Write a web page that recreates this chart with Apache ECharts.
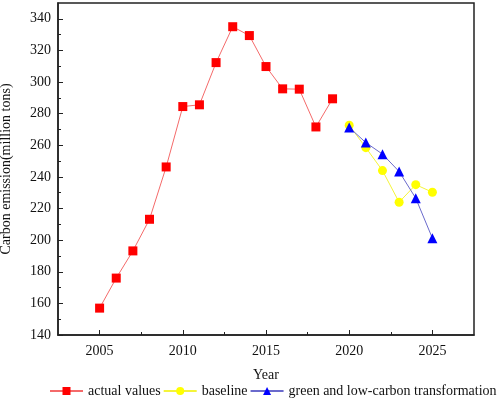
<!DOCTYPE html>
<html>
<head>
<meta charset="utf-8">
<script src="https://cdn.jsdelivr.net/npm/echarts@6/dist/echarts.min.js"></script>
<style>
  html, body { margin: 0; padding: 0; background: #fff; }
  #chart { width: 498px; height: 399px; }
</style>
</head>
<body>
<div id="chart"></div>
<script>
// data
const actualYears = [2005, 2006, 2007, 2008, 2009, 2010, 2011, 2012, 2013, 2014, 2015, 2016, 2017, 2018, 2019];
const actualValues = [157, 176, 193.2, 213.2, 246.3, 284.5, 285.6, 312.3, 335, 329.4, 309.8, 295.7, 295.5, 271.6, 289.4];
const forecastYears = [2020, 2021, 2022, 2023, 2024, 2025];
const baselineValues = [272.7, 258.5, 244, 224, 235.1, 230.3];
const greenValues = [271.3, 261.7, 254.4, 243.4, 226.5, 201.2];
const xLabels = [2005, 2010, 2015, 2020, 2025];
const xMinor = [2007.5, 2012.5, 2017.5, 2022.5];
const yLabels = [140, 160, 180, 200, 220, 240, 260, 280, 300, 320, 340];
const yMinor = [150, 170, 190, 210, 230, 250, 270, 290, 310, 330];

const serif = "'Liberation Serif', 'Times New Roman', serif";
const axisColor = "#222";

function pairs(xs, ys) {
  return xs.map((x, i) => [x, ys[i]]);
}

const chart = echarts.init(document.getElementById("chart"));
chart.setOption({
  animation: false,
  textStyle: { fontFamily: serif },
  grid: {
    left: 58,
    right: 24,
    top: 3,
    bottom: 64,
    outerBoundsMode: "none",
    containLabel: false,
    show: true,
    borderColor: axisColor,
    borderWidth: 1.5,
  },
  legend: {
    left: 44,
    top: 379,
    width: 470,
    itemWidth: 33,
    itemHeight: 10,
    itemGap: 2,
    textStyle: { fontFamily: serif, fontSize: 14, color: "#111" },
    data: ["actual values", "baseline", "green and low-carbon transformation"],
  },
  xAxis: [
    {
      type: "value",
      min: 2002.5,
      max: 2027.5,
      name: "Year",
      nameLocation: "middle",
      nameGap: 33,
      nameTextStyle: { fontFamily: serif, fontSize: 14, color: "#111" },
      axisLine: { show: true, lineStyle: { color: axisColor, width: 1.5 } },
      axisTick: { inside: true, length: 5, customValues: xLabels, lineStyle: { color: axisColor } },
      axisLabel: {
        customValues: xLabels,
        formatter: (v) => String(v),
        margin: 9,
        fontFamily: serif,
        fontSize: 14,
        color: "#111",
      },
      splitLine: { show: false },
    },
    {
      type: "value",
      min: 2002.5,
      max: 2027.5,
      position: "bottom",
      axisLine: { show: false },
      axisTick: { inside: true, length: 3, customValues: xMinor, lineStyle: { color: axisColor } },
      axisLabel: { show: false },
      splitLine: { show: false },
    },
  ],
  yAxis: [
    {
      type: "value",
      min: 140,
      max: 350,
      name: "Carbon emission(million tons)",
      nameLocation: "middle",
      nameGap: 45,
      nameTextStyle: { fontFamily: serif, fontSize: 14, color: "#111" },
      axisLine: { show: true, lineStyle: { color: axisColor, width: 1.5 } },
      axisTick: { inside: true, length: 5, customValues: yLabels, lineStyle: { color: axisColor } },
      axisLabel: {
        customValues: yLabels,
        formatter: (v) => String(v),
        margin: 7,
        fontFamily: serif,
        fontSize: 14,
        color: "#111",
      },
      splitLine: { show: false },
    },
    {
      type: "value",
      min: 140,
      max: 350,
      position: "left",
      axisLine: { show: false },
      axisTick: { inside: true, length: 3, customValues: yMinor, lineStyle: { color: axisColor } },
      axisLabel: { show: false },
      splitLine: { show: false },
    },
  ],
  series: [
    {
      name: "actual values",
      type: "line",
      symbol: "rect",
      symbolSize: 9,
      itemStyle: { color: "#ff0000" },
      lineStyle: { color: "#f46a6a", width: 1 },
      data: pairs(actualYears, actualValues),
    },
    {
      name: "baseline",
      type: "line",
      symbol: "circle",
      symbolSize: 9,
      itemStyle: { color: "#ffff00" },
      lineStyle: { color: "#f4f43a", width: 1 },
      data: pairs(forecastYears, baselineValues),
    },
    {
      name: "green and low-carbon transformation",
      type: "line",
      symbol: "triangle",
      symbolSize: 10,
      itemStyle: { color: "#0000ff" },
      lineStyle: { color: "#6a6acc", width: 1 },
      data: pairs(forecastYears, greenValues),
    },
  ],
});
</script>
</body>
</html>
